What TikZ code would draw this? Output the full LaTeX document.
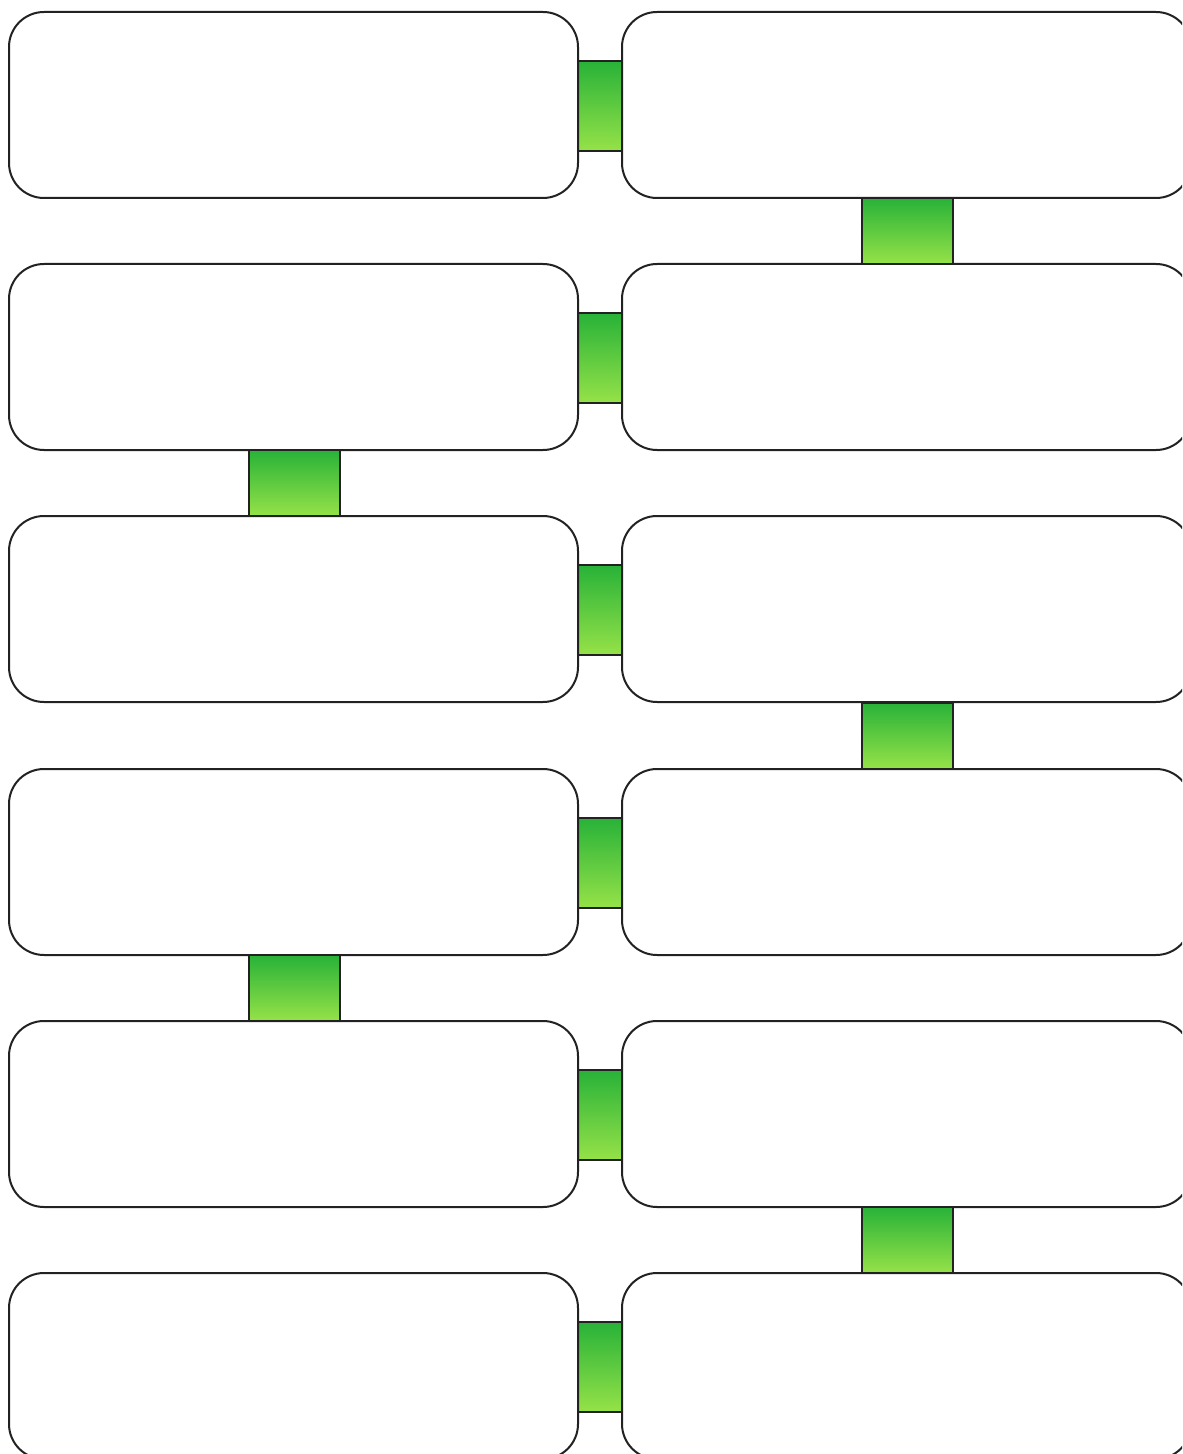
\documentclass[tikz,border=0pt]{standalone}
\usetikzlibrary{calc}
\definecolor{gtop}{RGB}{40,178,56}
\definecolor{gbot}{RGB}{150,226,72}
\definecolor{edgec}{RGB}{34,34,34}
\begin{document}
\begin{tikzpicture}[x=0.5pt,y=-0.5pt,
  box/.style={draw=edgec,line width=1pt,fill=white,rounded corners=17.5pt,minimum width=284.5pt,minimum height=93pt,inner sep=0pt,outer sep=0pt},
  hlink/.style={draw=edgec,line width=1pt,top color=gtop,bottom color=gbot,minimum width=22pt,minimum height=45pt,inner sep=0pt,outer sep=0pt},
  vlink/.style={draw=edgec,line width=1pt,top color=gtop,bottom color=gbot,minimum width=45.5pt,minimum height=33pt,inner sep=0pt,outer sep=0pt}]
\useasboundingbox (0,0) rectangle (1182,1454);
\clip (0,0) rectangle (1182,1454);
\foreach \i/\y in {1/105,2/357,3/609,4/862,5/1114,6/1366}{
  \node[hlink] (H\i) at (600,\y+1) {};
  \node[box] (L\i) at (293.5,\y) {};
  \node[box] (R\i) at (906.5,\y) {};
}
\node[vlink] (V1) at ($(R1.south)!0.5!(R2.north)+(1,0)$) {};
\node[vlink] (V2) at ($(L2.south)!0.5!(L3.north)+(1,0)$) {};
\node[vlink] (V3) at ($(R3.south)!0.5!(R4.north)+(1,0)$) {};
\node[vlink] (V4) at ($(L4.south)!0.5!(L5.north)+(1,0)$) {};
\node[vlink] (V5) at ($(R5.south)!0.5!(R6.north)+(1,0)$) {};
\end{tikzpicture}
\end{document}
